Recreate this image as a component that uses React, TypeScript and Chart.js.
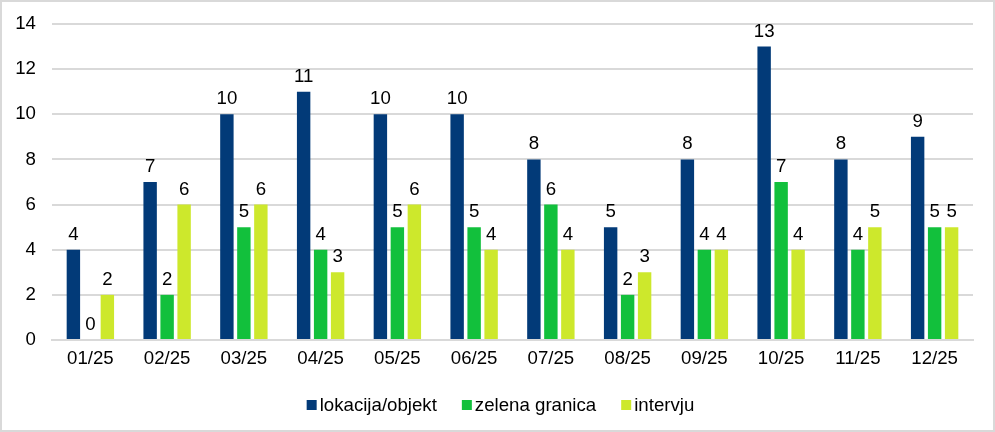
import React, { useEffect, useRef } from "react";
import { Chart, registerables } from "chart.js";

Chart.register(...registerables);

const categories = ["01/25", "02/25", "03/25", "04/25", "05/25", "06/25", "07/25", "08/25", "09/25", "10/25", "11/25", "12/25"];
const lokacija = [4, 7, 10, 11, 10, 10, 8, 5, 8, 13, 8, 9];
const zelena = [0, 2, 5, 4, 5, 5, 6, 2, 4, 7, 4, 5];
const intervju = [2, 6, 6, 3, 6, 4, 4, 3, 4, 4, 5, 5];
const seriesNames = ["lokacija/objekt", "zelena granica", "intervju"];
const seriesColors = ["#023A78", "#12C03C", "#CDE82C"];
const yTicks = [0, 2, 4, 6, 8, 10, 12, 14];

const FONT = "'Liberation Sans', Arial, sans-serif";
const FS = 18.67;

const valueLabels = {
  id: "valueLabels",
  afterDatasetsDraw(chart: any) {
    const ctx = chart.ctx;
    ctx.save();
    ctx.font = `${FS}px ${FONT}`;
    ctx.fillStyle = "#000";
    ctx.textAlign = "center";
    ctx.textBaseline = "alphabetic";
    chart.data.datasets.forEach((ds: any, i: number) => {
      const meta = chart.getDatasetMeta(i);
      meta.data.forEach((bar: any, j: number) => {
        ctx.fillText(String(ds.data[j]), bar.x, bar.y - 10);
      });
    });
    ctx.restore();
  },
};

const customLegend = {
  id: "customLegend",
  afterDraw(chart: any) {
    const ctx = chart.ctx;
    ctx.save();
    ctx.font = `${FS}px ${FONT}`;
    const box = 10;
    const gapText = 3;
    const gapItem = 25;
    const items = chart.data.datasets.map((ds: any) => ({
      label: ds.label,
      color: ds.backgroundColor,
      w: box + gapText + ctx.measureText(ds.label).width,
    }));
    const total = items.reduce((a: number, it: any) => a + it.w, 0) + gapItem * (items.length - 1);
    let x = chart.width / 2 + 3 - total / 2;
    const yc = chart.chartArea.bottom + 65;
    ctx.textBaseline = "middle";
    ctx.textAlign = "left";
    items.forEach((it: any) => {
      ctx.fillStyle = it.color;
      ctx.fillRect(x, yc - box / 2, box, box);
      ctx.fillStyle = "#000";
      ctx.fillText(it.label, x + box + gapText, yc + 1);
      x += it.w + gapItem;
    });
    ctx.restore();
  },
};

export default function App() {
  const ref = useRef<HTMLCanvasElement>(null);
  useEffect(() => {
    document.body.style.margin = "0";
    const chart = new Chart(ref.current!, {
      type: "bar",
      data: {
        labels: categories,
        datasets: [
          { label: seriesNames[0], data: lokacija, backgroundColor: seriesColors[0] },
          { label: seriesNames[1], data: zelena, backgroundColor: seriesColors[1] },
          { label: seriesNames[2], data: intervju, backgroundColor: seriesColors[2] },
        ],
      },
      options: {
        animation: false,
        responsive: false,
        maintainAspectRatio: false,
        datasets: { bar: { categoryPercentage: 0.664, barPercentage: 0.79 } },
        layout: { padding: { left: 0, right: 20, top: 22, bottom: 0 } },
        plugins: {
          tooltip: { enabled: false },
          legend: { display: false },
        },
        scales: {
          x: {
            grid: { display: false, drawTicks: false },
            border: { color: "#d9d9d9", width: 2 },
            ticks: { color: "#000", font: { family: FONT, size: FS }, padding: 8 },
            afterFit: (s: any) => {
              s.height = 90;
              s.paddingLeft = 0;
              s.paddingRight = 0;
            },
          },
          y: {
            min: 0,
            max: 14,
            afterBuildTicks: (s: any) => { s.ticks = yTicks.map((v) => ({ value: v })); },
            grid: { color: "#d9d9d9", lineWidth: 2, drawTicks: false },
            border: { display: false },
            ticks: { color: "#000", font: { family: FONT, size: FS }, padding: 16 },
            afterFit: (s: any) => {
              s.width = 50;
              s.paddingTop = 0;
              s.paddingBottom = 0;
            },
          },
        },
      },
      plugins: [valueLabels, customLegend],
    });
    return () => chart.destroy();
  }, []);
  return (
    <div style={{ width: 995, height: 432, boxSizing: "border-box", border: "2px solid #d9d9d9", position: "relative", background: "#fff" }}>
      <canvas ref={ref} width={991} height={428} style={{ display: "block" }} />
    </div>
  );
}
